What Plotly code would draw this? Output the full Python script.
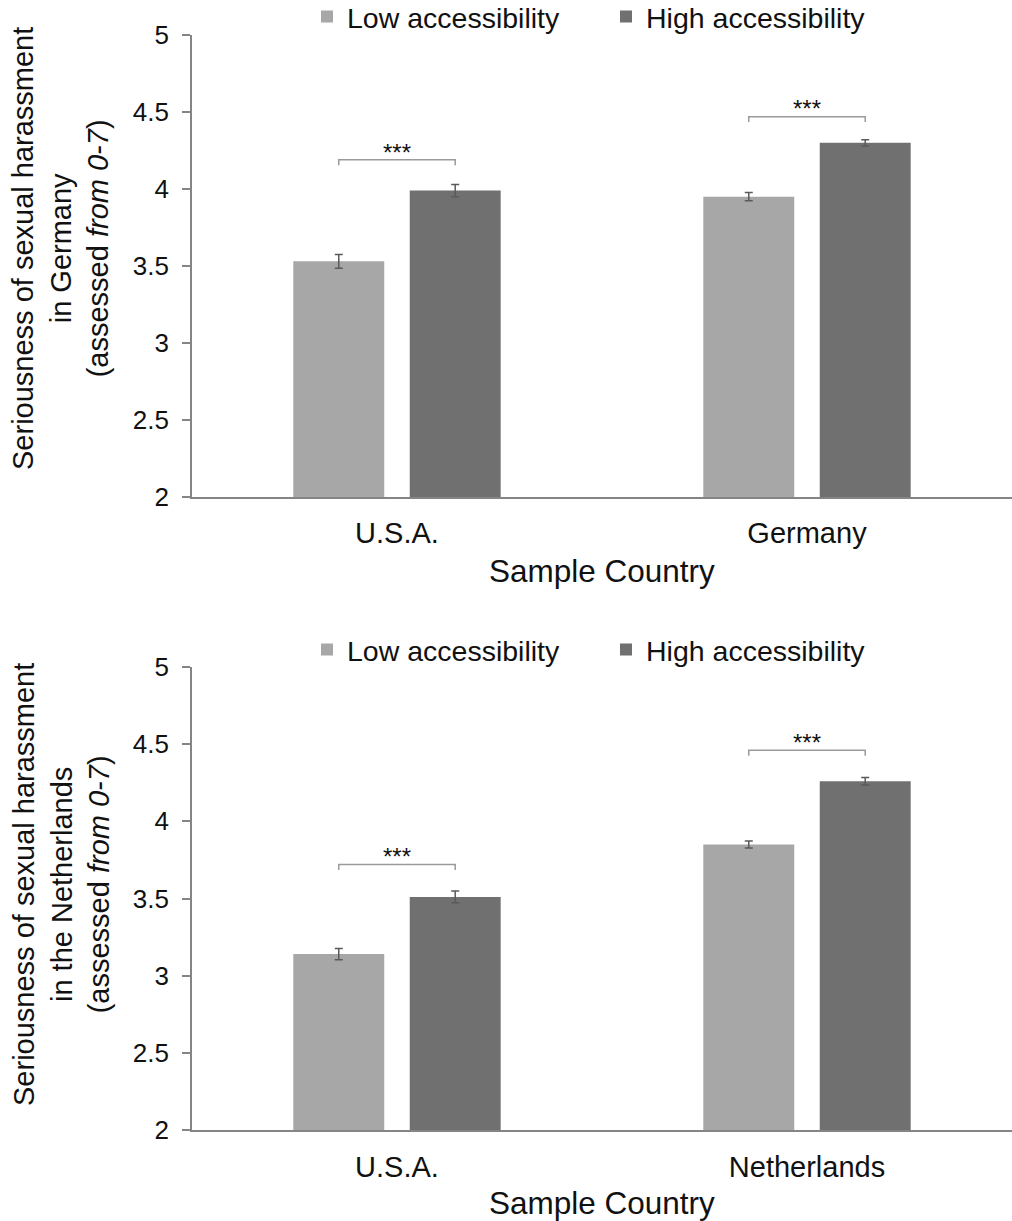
import plotly.graph_objects as go

# ---------------- data ----------------
series_names = ["Low accessibility", "High accessibility"]

countries_top = ["U.S.A.", "Germany"]
low_top = [3.53, 3.95]
low_top_err = [0.045, 0.027]
high_top = [3.99, 4.30]
high_top_err = [0.04, 0.02]
sig_top_y = [4.19, 4.47]
sig_top_label = ["***", "***"]

countries_bot = ["U.S.A.", "Netherlands"]
low_bot = [3.14, 3.85]
low_bot_err = [0.036, 0.022]
high_bot = [3.51, 4.26]
high_bot_err = [0.038, 0.025]
sig_bot_y = [3.72, 4.46]
sig_bot_label = ["***", "***"]

y_ticks = [2, 2.5, 3, 3.5, 4, 4.5, 5]
y_tick_text = ["2", "2.5", "3", "3.5", "4", "4.5", "5"]

ytitle_top = "Seriousness of sexual harassment<br>in Germany<br>(assessed <i>from 0-7</i>)"
ytitle_bot = "Seriousness of sexual harassment<br>in the Netherlands<br>(assessed <i>from 0-7</i>)"
xtitle = "Sample Country"

# ---------------- style ----------------
FONT = "Arial, Liberation Sans, Helvetica, sans-serif"
colors = ["#a7a7a7", "#707070"]
err_color = "#5a5a5a"
bracket_color = "#9a9a9a"
axis_color = "#858585"
BARGAP = 0.432
BARGROUPGAP = 0.219
half = (1 - BARGAP) / 4.0  # offset of bar centre from group centre
drop = 0.035
H = 1221.0

xdom = [0.1897, 1.0]
ydom_top = [0.5930, 0.9713]
ydom_bot = [0.0745, 0.4537]

fig = go.Figure()

panels = [
    dict(xa="x", ya="y", legend="legend", cats=countries_top,
         vals=[low_top, high_top], errs=[low_top_err, high_top_err],
         sig=sig_top_y, lab=sig_top_label, ytitle=ytitle_top,
         xtitle_y=1 - 571 / H, ytitle_y=1 - 249 / H),
    dict(xa="x2", ya="y2", legend="legend2", cats=countries_bot,
         vals=[low_bot, high_bot], errs=[low_bot_err, high_bot_err],
         sig=sig_bot_y, lab=sig_bot_label, ytitle=ytitle_bot,
         xtitle_y=1 - 1203 / H, ytitle_y=1 - 885 / H),
]

for p in panels:
    xpos = list(range(len(p["cats"])))
    for i, name in enumerate(series_names):
        fig.add_trace(go.Bar(
            x=xpos, y=p["vals"][i], name=name,
            marker=dict(color=colors[i], line=dict(width=0)),
            error_y=dict(type="data", array=p["errs"][i], visible=True,
                         color=err_color, thickness=1.5, width=4),
            xaxis=p["xa"], yaxis=p["ya"], legend=p["legend"],
            showlegend=True,
        ))
    for k, yb in enumerate(p["sig"]):
        x0, x1 = xpos[k] - half, xpos[k] + half
        fig.add_trace(go.Scatter(
            x=[x0, x0, x1, x1], y=[yb - drop, yb, yb, yb - drop],
            mode="lines", line=dict(color=bracket_color, width=1.5),
            xaxis=p["xa"], yaxis=p["ya"], showlegend=False, hoverinfo="skip",
        ))
        fig.add_annotation(
            x=xpos[k], y=yb + 0.05, xref=p["xa"], yref=p["ya"],
            text=p["lab"][k], showarrow=False, yanchor="middle",
            font=dict(family=FONT, size=24, color="#111111"),
        )
    # x-axis title
    fig.add_annotation(
        x=(xdom[0] + xdom[1]) / 2, y=p["xtitle_y"], xref="paper", yref="paper",
        text=xtitle, showarrow=False, xanchor="center", yanchor="middle",
        font=dict(family=FONT, size=31.5, color="#111111"),
    )
    # y-axis title (rotated, three lines)
    fig.add_annotation(
        x=61 / 1012, y=p["ytitle_y"], xref="paper", yref="paper",
        text=p["ytitle"], showarrow=False, textangle=-90, align="center",
        xanchor="center", yanchor="middle",
        font=dict(family=FONT, size=29, color="#111111"),
    )


def xaxis_cfg(cats, anchor):
    return dict(
        domain=xdom, anchor=anchor, range=[-0.5, 1.5], automargin=False,
        tickmode="array", tickvals=list(range(len(cats))), ticktext=cats,
        showline=True, linecolor=axis_color, linewidth=1.5,
        ticks="", showgrid=False, zeroline=False, ticklabelstandoff=10,
        tickfont=dict(family=FONT, size=29, color="#111111"),
    )


def yaxis_cfg(dom, anchor):
    return dict(
        domain=dom, anchor=anchor, range=[2, 5], automargin=False,
        tickmode="array", tickvals=y_ticks, ticktext=y_tick_text,
        showline=True, linecolor=axis_color, linewidth=1.5,
        ticks="outside", ticklen=8, tickcolor=axis_color, tickwidth=1.5,
        ticklabelstandoff=8,
        showgrid=False, zeroline=False,
        tickfont=dict(family=FONT, size=26, color="#111111"),
    )


legend_common = dict(
    orientation="h", xanchor="left", yanchor="middle",
    xref="container", yref="container",
    font=dict(family=FONT, size=28.5, color="#111111"),
    bgcolor="rgba(0,0,0,0)", entrywidth=254, entrywidthmode="pixels",
    itemclick=False, itemdoubleclick=False,
)

fig.update_layout(
    template="none",
    width=1012, height=1221,
    margin=dict(l=0, r=0, t=0, b=0, autoexpand=False),
    paper_bgcolor="white", plot_bgcolor="white",
    barmode="group", bargap=BARGAP, bargroupgap=BARGROUPGAP,
    font=dict(family=FONT, color="#111111"),
    xaxis=xaxis_cfg(countries_top, "y"),
    yaxis=yaxis_cfg(ydom_top, "x"),
    xaxis2=xaxis_cfg(countries_bot, "y2"),
    yaxis2=yaxis_cfg(ydom_bot, "x2"),
    legend=dict(x=307 / 1012, y=1 - 17 / H, **legend_common),
    legend2=dict(x=307 / 1012, y=1 - 650 / H, **legend_common),
)

fig.write_html(
    "out.html",
    config={"displayModeBar": False},
    post_script="document.body.style.margin='0';document.body.style.overflow='hidden';",
)
